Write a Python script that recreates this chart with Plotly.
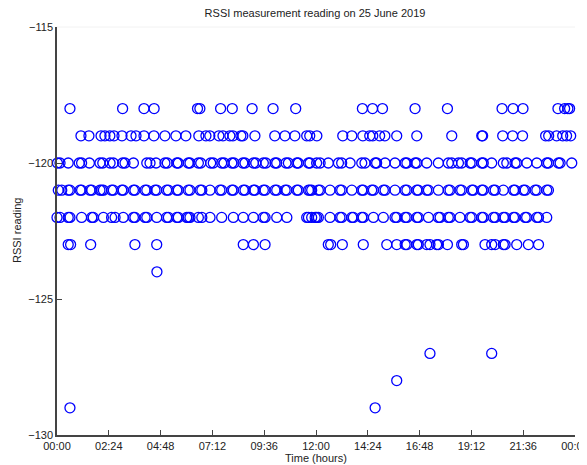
import plotly.graph_objects as go

# Time of day in decimal hours for each RSSI level
t_m118 = [0.60, 3.04, 4.03, 4.50, 6.51, 6.62, 7.58, 8.12, 9.04, 10.01, 11.06,
          14.15, 14.62, 15.08, 16.59, 18.09, 20.62, 21.13, 21.59, 23.21, 23.52,
          23.67, 23.75]
t_m119 = [1.11, 1.48, 2.04, 2.22, 2.45, 2.64, 3.01, 3.43, 3.66, 4.03, 4.49,
          5.00, 5.51, 5.97, 6.57, 6.90, 7.08, 7.50, 7.69, 8.01, 8.15, 8.52,
          8.61, 9.17, 10.09, 10.56, 11.02, 11.57, 11.71, 12.04, 13.24, 13.66,
          14.17, 14.49, 14.63, 14.95, 15.19, 15.74, 16.67, 18.29, 19.68, 19.72,
          20.65, 21.11, 21.57, 22.64, 22.78, 23.15, 23.43, 23.61, 23.80]
t_m120 = [0.02, 0.14, 0.52, 1.03, 1.14, 1.50, 1.99, 2.12, 2.46, 2.61, 3.04,
          3.15, 3.54, 4.16, 4.31, 4.59, 5.00, 5.11, 5.55, 5.62, 6.08, 6.16,
          6.55, 6.66, 7.12, 7.24, 7.63, 7.74, 8.10, 8.20, 8.61, 8.71, 9.10,
          9.21, 9.56, 9.68, 10.10, 10.18, 10.61, 10.72, 11.11, 11.18, 11.65,
          11.72, 12.03, 12.19, 12.57, 13.04, 13.19, 13.58, 14.12, 14.27, 14.74,
          14.81, 15.20, 15.66, 16.13, 16.21, 16.59, 16.67, 17.13, 17.67, 18.13,
          18.29, 18.60, 18.75, 19.14, 19.22, 19.68, 19.75, 20.14, 20.68, 20.84,
          21.22, 21.30, 21.77, 22.23, 22.69, 22.77, 23.23, 23.31, 23.85]
t_m121 = [0.06, 0.22, 0.52, 0.60, 1.07, 1.14, 1.53, 1.61, 1.99, 2.07, 2.15,
          2.53, 2.61, 3.00, 3.07, 3.54, 3.61, 4.08, 4.16, 4.54, 4.62, 5.08,
          5.16, 5.55, 5.62, 6.08, 6.16, 6.63, 6.71, 7.09, 7.55, 7.63, 8.10,
          8.17, 8.63, 8.71, 9.10, 9.17, 9.56, 9.64, 10.10, 10.18, 10.57, 10.65,
          11.11, 11.18, 11.65, 11.72, 11.80, 12.11, 12.19, 12.65, 13.11, 13.19,
          13.66, 14.12, 14.19, 14.58, 14.66, 15.12, 15.20, 15.66, 16.13, 16.21,
          16.67, 16.74, 17.13, 17.21, 17.67, 18.13, 18.21, 18.67, 18.75, 19.22,
          19.29, 19.68, 19.75, 20.22, 20.30, 20.68, 21.15, 21.22, 21.61, 21.69,
          22.15, 22.23, 22.69, 22.77]
t_m122 = [0.00, 0.14, 0.52, 0.60, 1.14, 1.61, 1.68, 2.15, 2.53, 2.69, 3.07,
          3.54, 3.61, 4.08, 4.16, 4.62, 5.08, 5.16, 5.55, 5.62, 6.01, 6.08,
          6.16, 6.55, 6.71, 7.09, 7.63, 8.17, 8.63, 9.10, 9.56, 9.64, 10.18,
          10.65, 11.57, 11.65, 11.80, 11.96, 12.03, 12.11, 12.65, 13.11, 13.19,
          13.66, 13.73, 14.12, 14.19, 14.66, 15.12, 15.66, 15.74, 16.13, 16.21,
          16.67, 16.74, 17.21, 17.67, 17.75, 18.13, 18.21, 18.67, 19.14, 19.22,
          19.68, 19.75, 20.22, 20.30, 20.68, 20.76, 21.15, 21.22, 21.69, 21.76,
          22.23, 22.31, 22.69]
t_m123 = [0.52, 0.63, 1.56, 3.61, 4.62, 8.63, 9.10, 9.64, 12.57, 12.68, 13.22,
          14.19, 15.28, 15.74, 16.13, 16.21, 16.67, 16.74, 17.13, 17.28, 17.59,
          17.67, 18.09, 18.75, 18.83, 19.83, 20.14, 20.30, 20.68, 20.76, 21.30,
          21.84, 22.31]
t_outlier = [4.63, 0.60, 14.74, 15.74, 17.28, 20.14]
v_outlier = [-124, -129, -129, -128, -127, -127]

levels = [-118, -119, -120, -121, -122, -123]
level_times = [t_m118, t_m119, t_m120, t_m121, t_m122, t_m123]

x_tickvals = [0, 2.4, 4.8, 7.2, 9.6, 12, 14.4, 16.8, 19.2, 21.6, 24]
x_ticktext = ["00:00", "02:24", "04:48", "07:12", "09:36", "12:00",
              "14:24", "16:48", "19:12", "21:36", "00:00"]
y_tickvals = [-130, -125, -120, -115]

xs, ys = [], []
for lv, ts in zip(levels, level_times):
    xs.extend(ts)
    ys.extend([lv] * len(ts))
xs.extend(t_outlier)
ys.extend(v_outlier)

fig = go.Figure()
fig.add_trace(go.Scatter(
    x=xs, y=ys, mode="markers",
    marker=dict(symbol="circle-open", size=10, color="#0000ff",
                line=dict(width=1.3, color="#0000ff")),
    showlegend=False, hoverinfo="x+y", cliponaxis=False,
))

font = "Liberation Sans, Arial, Helvetica, sans-serif"
# The page body adds an 8 px offset; figure is sized so the plot area
# lands where the reference's axes are.
fig.update_layout(
    width=579, height=457,
    margin=dict(l=49, r=12, t=19, b=30, autoexpand=False),
    paper_bgcolor="white", plot_bgcolor="white",
    font=dict(family=font, size=11, color="#222"),
    title=dict(text="RSSI measurement reading on 25 June 2019",
               x=(315 - 8) / 579, xanchor="center", y=1 - 5 / 457,
               yanchor="middle", font=dict(size=11, color="#222")),
    xaxis=dict(range=[0, 24], tickvals=x_tickvals, ticktext=x_ticktext,
               showgrid=False, zeroline=False, showline=True,
               linecolor="#444", linewidth=1.5, ticks="inside",
               ticklen=5, tickcolor="#444", tickwidth=1,
               automargin=False, ticklabeloverflow="allow",
               tickfont=dict(size=11)),
    yaxis=dict(range=[-130, -115], tickvals=y_tickvals,
               showgrid=False, zeroline=False, showline=True,
               linecolor="#444", linewidth=1.5, ticks="inside",
               ticklen=5, tickcolor="#444", tickwidth=1,
               automargin=False, ticklabeloverflow="allow",
               tickfont=dict(size=11)),
    annotations=[
        dict(text="Time (hours)", xref="paper", yref="paper", x=0.5, y=0,
             xanchor="center", yanchor="middle", yshift=-23,
             showarrow=False, font=dict(size=11, color="#222")),
        dict(text="RSSI reading", xref="paper", yref="paper", x=0, y=0.5,
             xanchor="center", yanchor="middle", xshift=-40, textangle=-90,
             showarrow=False, font=dict(size=11, color="#222")),
    ],
    shapes=[dict(type="line", xref="paper", yref="paper", x0=0, x1=1,
                 y0=1, y1=1, line=dict(color="#f2f2f2", width=1))],
)

fig.write_html("out.html")
